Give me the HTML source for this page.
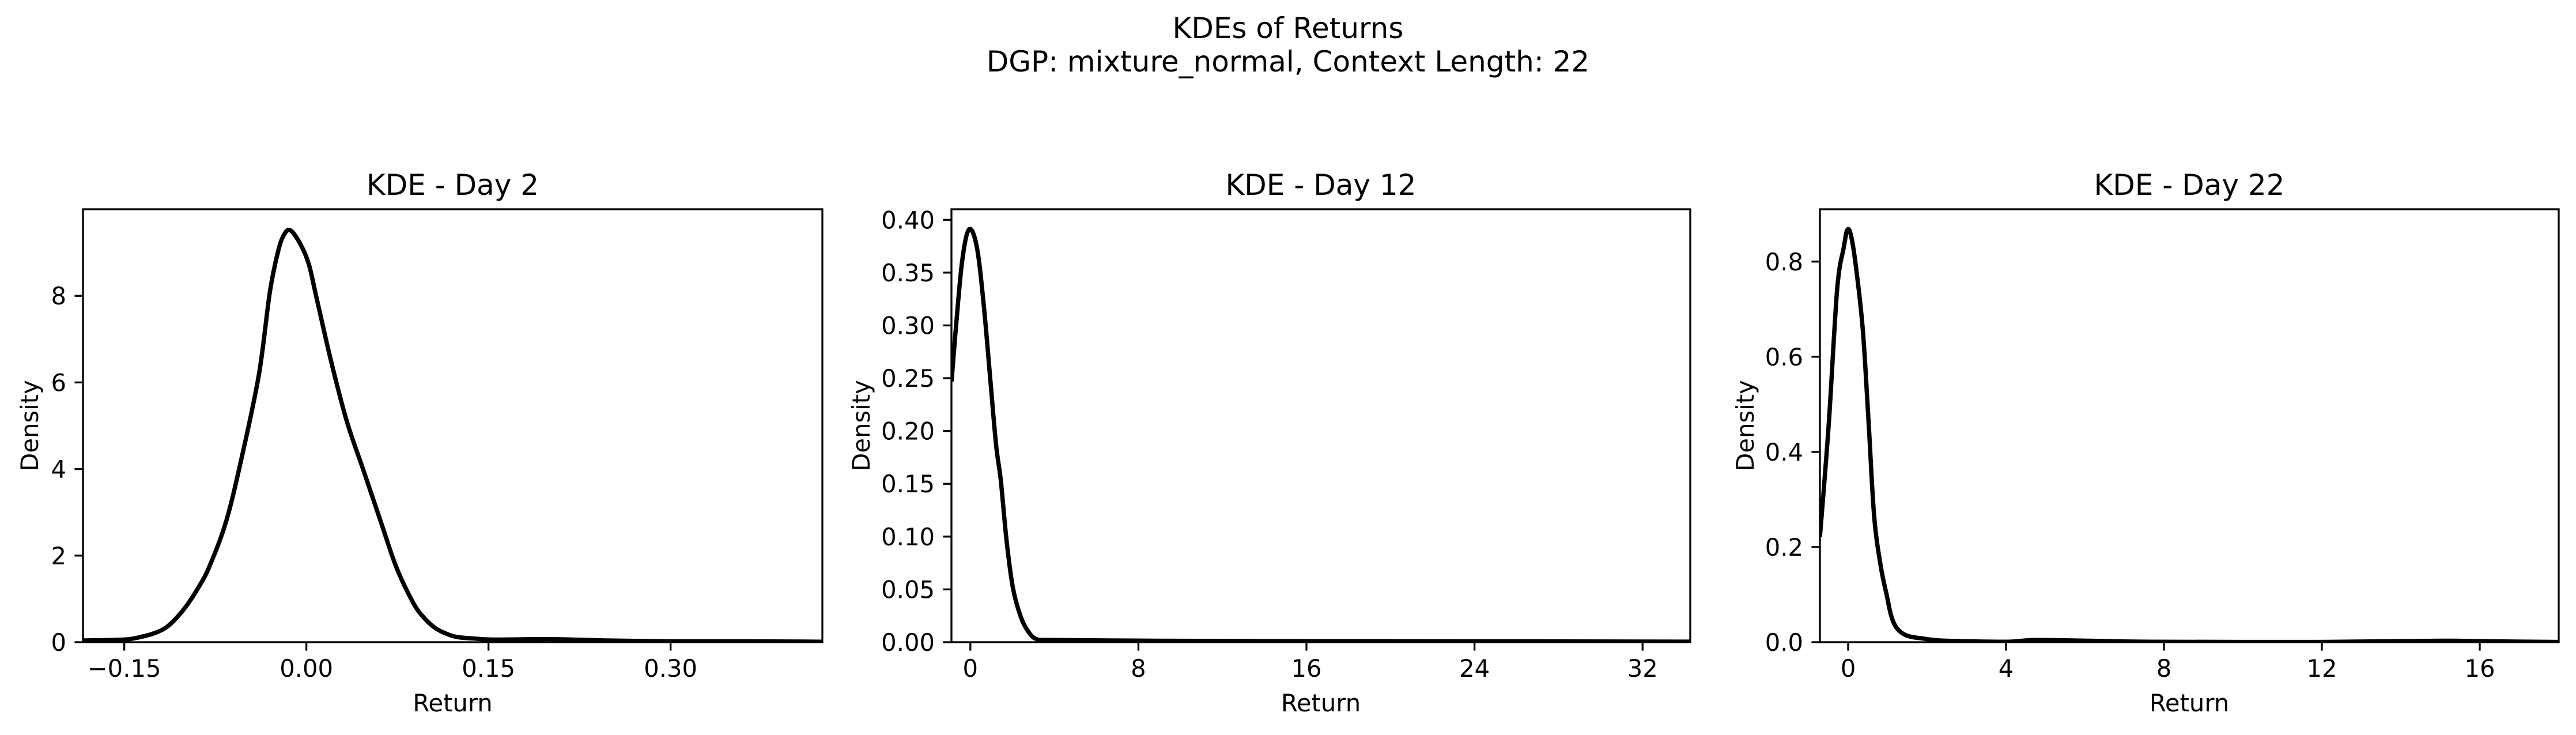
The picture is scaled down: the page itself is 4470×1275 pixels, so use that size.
<!DOCTYPE html>
<html><head><meta charset="utf-8"><style>
html,body{margin:0;padding:0;background:#fff;}
svg{display:block;font-family:"DejaVu Sans","Liberation Sans",sans-serif;}
</style></head><body>
<svg id="fig" width="4470" height="1275" viewBox="0 0 4470 1275" xmlns="http://www.w3.org/2000/svg">
<rect width="4470" height="1275" fill="#fff"/>
<text x="2235" y="66" font-size="50" text-anchor="middle">KDEs of Returns</text>
<text x="2235" y="124" font-size="50" text-anchor="middle">DGP: mixture_normal, Context Length: 22</text>
</svg>
<script>
// Panel 1 data
const p1X = [-0.184,-0.15,-0.135,-0.125,-0.116,-0.107,-0.098,-0.089,-0.080,-0.066,-0.053,-0.039,-0.030,-0.023,-0.018,-0.013,-0.005,0.002,0.0085,0.020,0.033,0.047,0.061,0.074,0.088,0.097,0.106,0.115,0.124,0.14,0.156,0.202,0.247,0.30,0.35,0.425];
const p1Y = [0.04,0.06,0.13,0.21,0.33,0.56,0.87,1.26,1.74,2.8,4.3,6.2,8.1,9.06,9.43,9.51,9.2,8.73,7.94,6.53,5.13,3.97,2.81,1.74,0.91,0.56,0.33,0.2,0.12,0.08,0.06,0.07,0.04,0.02,0.02,0.01];
const p1XTicks = [-0.15,0,0.15,0.30];
const p1XLabels = ["\u22120.15","0.00","0.15","0.30"];
const p1YTicks = [0,2,4,6,8];
const p1YLabels = ["0","2","4","6","8"];
// Panel 2 data
const p2X = [-0.89,-0.70,-0.39,-0.06,0.31,0.64,0.97,1.23,1.45,1.73,2.03,2.4,2.76,3.15,3.96,9,16,24,34.27];
const p2Y = [0.249,0.295,0.361,0.391,0.374,0.319,0.244,0.186,0.153,0.095,0.051,0.024,0.010,0.003,0.002,0.0013,0.001,0.0008,0.0005];
const p2XTicks = [0,8,16,24,32];
const p2XLabels = ["0","8","16","24","32"];
const p2YTicks = [0,0.05,0.10,0.15,0.20,0.25,0.30,0.35,0.40];
const p2YLabels = ["0.00","0.05","0.10","0.15","0.20","0.25","0.30","0.35","0.40"];
// Panel 3 data
const p3X = [-0.71,-0.49,-0.28,-0.11,-0.01,0.10,0.24,0.38,0.52,0.66,0.83,0.98,1.09,1.23,1.48,1.91,2.47,4.03,4.7,6.1,7.6,11.8,15.05,16,18];
const p3Y = [0.226,0.46,0.74,0.83,0.868,0.844,0.761,0.648,0.46,0.264,0.158,0.098,0.056,0.030,0.014,0.0075,0.003,0.001,0.0045,0.003,0.001,0.0005,0.003,0.002,0.0005];
const p3XTicks = [0,4,8,12,16];
const p3XLabels = ["0","4","8","12","16"];
const p3YTicks = [0,0.2,0.4,0.6,0.8];
const p3YLabels = ["0.0","0.2","0.4","0.6","0.8"];

const NS="http://www.w3.org/2000/svg";
const fig=document.getElementById('fig');
function mk(tag,attrs,parent){const e=document.createElementNS(NS,tag);for(const k in attrs)e.setAttribute(k,attrs[k]);(parent||fig).appendChild(e);return e;}

function smoothPath(pts){
 let d='M'+pts[0][0].toFixed(1)+' '+pts[0][1].toFixed(1);
 for(let i=0;i<pts.length-1;i++){
  const p0=pts[Math.max(0,i-1)],p1=pts[i],p2=pts[i+1],p3=pts[Math.min(pts.length-1,i+2)];
  const t=1/6;
  const c1=[p1[0]+(p2[0]-p0[0])*t,p1[1]+(p2[1]-p0[1])*t];
  const c2=[p2[0]-(p3[0]-p1[0])*t,p2[1]-(p3[1]-p1[1])*t];
  d+=' C'+c1[0].toFixed(1)+' '+c1[1].toFixed(1)+' '+c2[0].toFixed(1)+' '+c2[1].toFixed(1)+' '+p2[0].toFixed(1)+' '+p2[1].toFixed(1);
 }
 return d;
}

const panels=[
 {title:"KDE - Day 2",L:144,R:1427,T:363,B:1114,xmin:-0.184,xmax:0.425,ymin:0,ymax:10.0,xs:p1X,ys:p1Y,xt:p1XTicks,xl:p1XLabels,yt:p1YTicks,yl:p1YLabels,ylabX:51,key:"day-2"},
 {title:"KDE - Day 12",L:1651,R:2933,T:363,B:1114,xmin:-0.9,xmax:34.27,ymin:0,ymax:0.41,xs:p2X,ys:p2Y,xt:p2XTicks,xl:p2XLabels,yt:p2YTicks,yl:p2YLabels,ylabX:1494,key:"day-12"},
 {title:"KDE - Day 22",L:3158,R:4440,T:363,B:1114,xmin:-0.715,xmax:18.0,ymin:0,ymax:0.91,xs:p3X,ys:p3Y,xt:p3XTicks,xl:p3XLabels,yt:p3YTicks,yl:p3YLabels,ylabX:3028,key:"day-22"}
];

panels.forEach(p=>{
 const g=mk('g',{});
 
 
 const sx=v=>p.L+(v-p.xmin)/(p.xmax-p.xmin)*(p.R-p.L);
 const sy=v=>p.B-(v-p.ymin)/(p.ymax-p.ymin)*(p.B-p.T);
 const cid='clip-'+p.key;
 const cp=mk('clipPath',{id:cid},g);
 mk('rect',{x:p.L,y:p.T,width:p.R-p.L,height:p.B-p.T},cp);
 const pts=p.xs.map((x,i)=>[sx(x),sy(p.ys[i])]);
 const line=mk('path',{d:smoothPath(pts),fill:'none',stroke:'#000','stroke-width':7.5,'stroke-linejoin':'round','stroke-linecap':'square','clip-path':'url(#'+cid+')'},g);
 
 
 const frame=mk('rect',{x:p.L,y:p.T,width:p.R-p.L,height:p.B-p.T,fill:'none',stroke:'#000','stroke-width':3.3},g);
 
 
 p.xt.forEach((v,i)=>{
  const x=sx(v);
  mk('line',{x1:x,x2:x,y1:p.B,y2:p.B+14.6,stroke:'#000','stroke-width':3.3},g);
  const t=mk('text',{x:x,y:1174,'font-size':41.7,'text-anchor':'middle'},g);
  t.textContent=p.xl[i];
  
  
 });
 p.yt.forEach((v,i)=>{
  const y=sy(v);
  mk('line',{x1:p.L-14.6,x2:p.L,y1:y,y2:y,stroke:'#000','stroke-width':3.3},g);
  const t=mk('text',{x:p.L-29,y:y+15,'font-size':41.7,'text-anchor':'end'},g);
  t.textContent=p.yl[i];
  
  
 });
 const tt=mk('text',{x:(p.L+p.R)/2,y:338,'font-size':50,'text-anchor':'middle'},g);
 tt.textContent=p.title;
 
 
 const xl=mk('text',{x:(p.L+p.R)/2,y:1234,'font-size':41.7,'text-anchor':'middle'},g);
 xl.textContent="Return";
 
 
 const cy=(p.T+p.B)/2;
 const yl=mk('text',{x:p.ylabX+15,y:cy,'font-size':41.7,'text-anchor':'middle',transform:'rotate(-90 '+(p.ylabX+15)+' '+cy+')'},g);
 yl.textContent="Density";
 
 
});
</script>
</body></html>
